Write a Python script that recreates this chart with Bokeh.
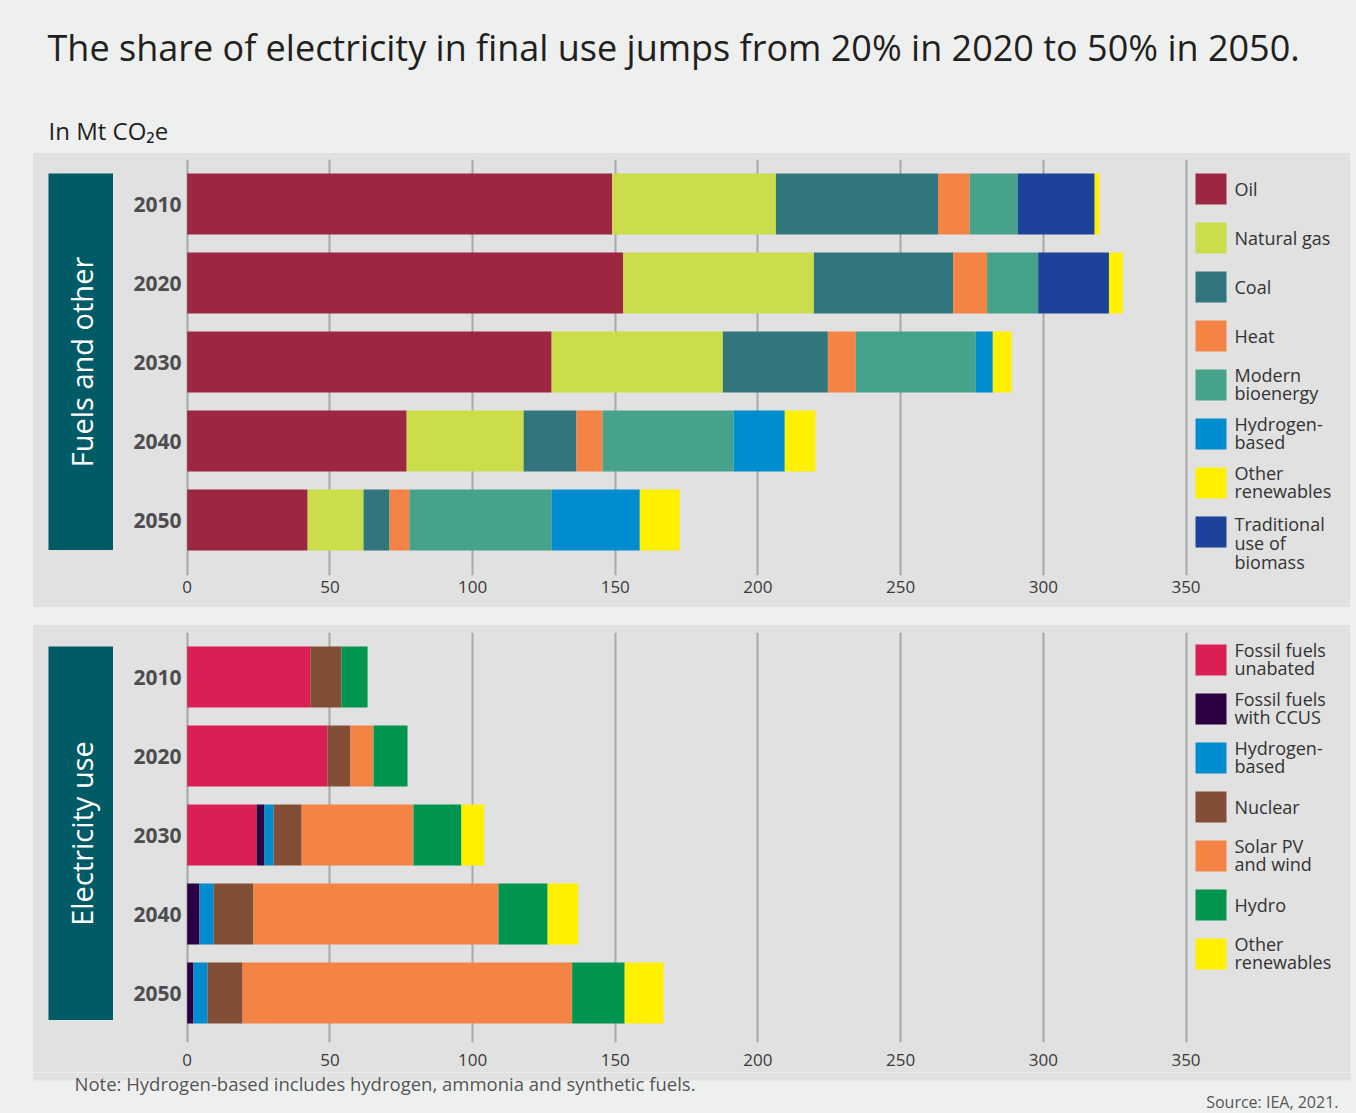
import math
from bokeh.plotting import figure
from bokeh.models import Range1d, FixedTicker, Spacer, ColumnDataSource
from bokeh.layouts import column, row
from bokeh.embed import file_html
from bokeh.resources import INLINE
from bokeh.core.properties import value

# ---------------- data ----------------
years = ["2010", "2020", "2030", "2040", "2050"]

oil = [148.9, 152.8, 127.7, 76.9, 42.2]
natural_gas = [57.4, 66.8, 60.0, 41.0, 19.6]
coal = [56.8, 48.8, 36.8, 18.5, 9.1]
heat = [11.1, 11.9, 9.8, 9.2, 7.0]
modern_bioenergy = [16.9, 17.9, 42.0, 45.9, 49.8]
hydrogen_fuels = [0.0, 0.0, 6.0, 17.9, 30.9]
traditional_biomass = [26.9, 24.8, 0.0, 0.0, 0.0]
other_renewables_fuels = [1.7, 4.9, 6.6, 10.7, 14.0]

fossil_unabated = [43.1, 49.2, 24.3, 0.0, 0.0]
fossil_ccus = [0.0, 0.0, 2.8, 4.3, 2.2]
hydrogen_elec = [0.0, 0.0, 3.2, 5.0, 4.9]
nuclear = [11.0, 8.0, 9.8, 13.9, 12.3]
solar_wind = [0.0, 8.1, 39.2, 85.9, 115.5]
hydro = [9.1, 11.9, 16.8, 17.2, 18.4]
other_renewables_elec = [0.0, 0.0, 8.0, 10.7, 13.6]

x_ticks = [0, 50, 100, 150, 200, 250, 300, 350]

fuel_stack = ["oil", "natural_gas", "coal", "heat", "modern_bioenergy",
              "hydrogen", "traditional_biomass", "other_renewables"]
fuel_colors = ["#9d2740", "#ccdd4c", "#30767c", "#f48445", "#46a28b",
               "#008dd0", "#1c4399", "#fff000"]
fuel_legend = ["Oil", "Natural gas", "Coal", "Heat", "Modern\nbioenergy",
               "Hydrogen-\nbased", "Other\nrenewables", "Traditional\nuse of\nbiomass"]
fuel_legend_colors = ["#9d2740", "#ccdd4c", "#30767c", "#f48445", "#46a28b",
                      "#008dd0", "#fff000", "#1c4399"]

elec_stack = ["fossil_unabated", "fossil_ccus", "hydrogen", "nuclear",
              "solar_wind", "hydro", "other_renewables"]
elec_colors = ["#db1f54", "#2c0040", "#008dd0", "#834e36", "#f48445",
               "#00964f", "#fff000"]
elec_legend = ["Fossil fuels\nunabated", "Fossil fuels\nwith CCUS", "Hydrogen-\nbased",
               "Nuclear", "Solar PV\nand wind", "Hydro", "Other\nrenewables"]

# ---------------- style ----------------
OUTER = "#eef0ef"
PANEL = "#e0e1e0"
TEAL = "#005b67"
GRID = "#a6a8aa"
FONT = "Open Sans"

X0PX = 186.7           # page x of value 0
SCALE = (1185.5 - 186.7) / 350.0   # px per unit
FIG_LEFT = 113         # page x of panel figure left edge
FRAME_LEFT = 184
FRAME_RIGHT = 1350


def xdata(px):
    return (px - X0PX) / SCALE


def make_panel(fig_top, height, frame_top, frame_bottom, bar0, src_data, stackers,
               colors, legend_labels, legend_colors, legend0, standoff):
    pitch = 79.0

    def ydata(py):
        return (py - bar0) / pitch

    p = figure(width=FRAME_RIGHT - FIG_LEFT, height=height,
               x_range=Range1d(xdata(FRAME_LEFT), xdata(FRAME_RIGHT)),
               y_range=Range1d(ydata(frame_bottom), ydata(frame_top)),
               output_backend="svg", toolbar_location=None,
               min_border_left=FRAME_LEFT - FIG_LEFT, min_border_right=0,
               min_border_top=frame_top - fig_top,
               min_border_bottom=fig_top + height - frame_bottom)
    p.background_fill_color = PANEL
    p.border_fill_color = PANEL
    p.outline_line_color = None

    src = ColumnDataSource(src_data)
    p.hbar_stack(stackers, y="idx", height=61.0 / pitch, fill_color=colors,
                 line_color=None, source=src)

    # legend
    lx = [xdata(1210.5)] * len(legend_labels)
    ly = [ydata(legend0 + 49 * k) for k in range(len(legend_labels))]
    p.rect(x=lx, y=ly, width=31, height=31, width_units="screen",
           height_units="screen", fill_color=legend_colors, line_color=None)
    ty = []
    for k, lab in enumerate(legend_labels):
        n = lab.count("\n") + 1
        off = 11 if n >= 3 else (-1 if n == 2 else 0)
        ty.append(ydata(legend0 + 49 * k + off))
    p.text(x=[xdata(1234)] * len(legend_labels), y=ty, text=legend_labels,
           text_font=value(FONT), text_font_size="18px", text_color="#333333",
           text_align="left", text_baseline="middle", text_line_height=0.78)

    # axes
    p.xaxis.ticker = FixedTicker(ticks=x_ticks)
    p.xaxis.axis_line_color = None
    p.xaxis.major_tick_line_color = None
    p.xaxis.minor_tick_line_color = None
    p.xaxis.major_tick_out = 0
    p.xaxis.major_tick_in = 0
    p.xaxis.major_label_standoff = standoff
    p.xaxis.major_label_text_font = FONT
    p.xaxis.major_label_text_font_size = "17px"
    p.xaxis.major_label_text_color = "#3a3a3a"

    p.yaxis.ticker = FixedTicker(ticks=list(range(len(years))))
    p.yaxis.major_label_overrides = {i: y for i, y in enumerate(years)}
    p.yaxis.axis_line_color = None
    p.yaxis.major_tick_line_color = None
    p.yaxis.minor_tick_line_color = None
    p.yaxis.major_tick_out = 0
    p.yaxis.major_tick_in = 0
    p.yaxis.major_label_standoff = 3
    p.yaxis.major_label_text_font = FONT
    p.yaxis.major_label_text_font_style = "bold"
    p.yaxis.major_label_text_font_size = "21px"
    p.yaxis.major_label_text_color = "#4d4d4f"

    p.xgrid.ticker = FixedTicker(ticks=x_ticks)
    p.xgrid.grid_line_color = GRID
    p.xgrid.grid_line_width = 2
    p.ygrid.visible = False
    return p


def teal_box(label, h):
    t = figure(width=65, height=h, x_range=Range1d(0, 1), y_range=Range1d(0, 1),
               output_backend="svg", toolbar_location=None, min_border=0,
               x_axis_location=None, y_axis_location=None)
    t.background_fill_color = TEAL
    t.border_fill_color = TEAL
    t.outline_line_color = None
    t.xgrid.visible = False
    t.ygrid.visible = False
    t.text(x=[0.5], y=[0.5], text=[label], angle=math.pi / 2,
           text_font=value(FONT), text_font_size="29px", text_color="white",
           text_align="center", text_baseline="middle")
    return t


# ---------------- header ----------------
header = figure(width=1356, height=153, x_range=Range1d(0, 1356), y_range=Range1d(153, 0),
                output_backend="svg", toolbar_location=None, min_border=0,
                x_axis_location=None, y_axis_location=None)
header.background_fill_color = OUTER
header.border_fill_color = OUTER
header.outline_line_color = None
header.xgrid.visible = False
header.ygrid.visible = False
header.text(x=[47], y=[47], text=["The share of electricity in final use jumps from 20% in 2020 to 50% in 2050."],
            text_font=value(FONT), text_font_size="36px", text_color="#231f20",
            text_align="left", text_baseline="middle")
header.text(x=[48], y=[130], text=["In Mt CO\u2082e"],
            text_font=value(FONT), text_font_size="24px", text_color="#231f20",
            text_align="left", text_baseline="middle")

# ---------------- panels ----------------
fuel_data = dict(idx=list(range(len(years))), oil=oil, natural_gas=natural_gas, coal=coal,
                 heat=heat, modern_bioenergy=modern_bioenergy, hydrogen=hydrogen_fuels,
                 traditional_biomass=traditional_biomass, other_renewables=other_renewables_fuels)
elec_data = dict(idx=list(range(len(years))), fossil_unabated=fossil_unabated,
                 fossil_ccus=fossil_ccus, hydrogen=hydrogen_elec, nuclear=nuclear,
                 solar_wind=solar_wind, hydro=hydro, other_renewables=other_renewables_elec)

figA = make_panel(153, 454, 159, 575, 203.5, fuel_data, fuel_stack, fuel_colors,
                  fuel_legend, fuel_legend_colors, 188.5, 5)
figB = make_panel(625, 447, 632, 1042, 676.5, elec_data, elec_stack, elec_colors,
                  elec_legend, elec_colors, 659.5, 11)

tealA = column(Spacer(width=65, height=20), teal_box("Fuels and other", 377),
               Spacer(width=65, height=57))
tealB = column(Spacer(width=65, height=21), teal_box("Electricity use", 374),
               Spacer(width=65, height=52))

rowA = row(Spacer(width=33, height=454),
           row(Spacer(width=15, height=454), tealA, figA, styles={"background-color": PANEL}))
rowB = row(Spacer(width=33, height=447),
           row(Spacer(width=15, height=447), tealB, figB, styles={"background-color": PANEL}))

# ---------------- footer ----------------
footer = figure(width=1356, height=41, x_range=Range1d(0, 1356), y_range=Range1d(41, 0),
                output_backend="svg", toolbar_location=None, min_border=0,
                x_axis_location=None, y_axis_location=None)
footer.background_fill_color = OUTER
footer.border_fill_color = OUTER
footer.outline_line_color = None
footer.xgrid.visible = False
footer.ygrid.visible = False
footer.quad(left=[33], right=[1350], top=[0], bottom=[8], fill_color=PANEL, line_color=None)
footer.text(x=[74], y=[11], text=["Note: Hydrogen-based includes hydrogen, ammonia and synthetic fuels."],
            text_font=value(FONT), text_font_size="18.5px", text_color="#555555",
            text_align="left", text_baseline="middle")
footer.text(x=[1338], y=[29], text=["Source: IEA, 2021."],
            text_font=value(FONT), text_font_size="16px", text_color="#555555",
            text_align="right", text_baseline="middle")

layout = column(header, rowA, Spacer(width=1356, height=18), rowB, footer,
                styles={"background-color": OUTER})

open("out.html", "w").write(file_html(layout, INLINE))
